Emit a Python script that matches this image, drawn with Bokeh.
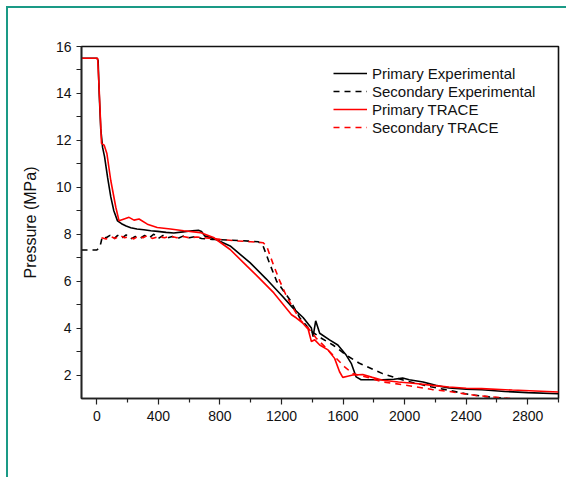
from bokeh.plotting import figure
from bokeh.models import FixedTicker, Legend, LegendItem
from bokeh.embed import file_html
from bokeh.resources import INLINE

# Time (s) and pressure (MPa) traces
prim_exp_t = [-100, 0, 8, 15, 25, 37, 50, 70, 90, 110, 134, 160, 190, 220, 260, 305, 350,
              395, 450, 500, 560, 620, 660, 680, 700, 760, 866, 995, 1100, 1200, 1275, 1340,
              1394, 1405, 1422, 1448, 1512, 1566, 1620, 1653, 1685, 1717, 1790, 1857, 1930,
              1987, 2030, 2120, 2202, 2288, 2400, 2502, 2650, 2800, 3000]
prim_exp_p = [15.5, 15.5, 15.4, 14.0, 12.5, 11.7, 11.3, 10.4, 9.6, 9.0, 8.57, 8.45, 8.35,
              8.28, 8.22, 8.19, 8.15, 8.12, 8.08, 8.05, 8.1, 8.15, 8.17, 8.12, 7.93, 7.82,
              7.5, 6.79, 6.1, 5.4, 4.85, 4.45, 4.0, 3.64, 4.31, 3.78, 3.5, 3.28, 2.85, 2.5,
              1.92, 1.8, 1.8, 1.8, 1.82, 1.87, 1.8, 1.7, 1.56, 1.45, 1.4, 1.37, 1.3, 1.25, 1.2]

sec_exp_t = [-100, 0, 10, 25, 35, 60, 85, 110, 135, 160, 190, 220, 250, 280, 310, 340, 370,
             400, 430, 460, 490, 520, 560, 600, 640, 680, 750, 850, 950, 1050, 1080, 1120,
             1168, 1254, 1319, 1394, 1459, 1534, 1620, 1706, 1857, 2008, 2170, 2288, 2396,
             2500, 2654, 2800]
sec_exp_p = [7.33, 7.33, 7.38, 7.6, 7.9, 7.85, 7.95, 7.8, 7.95, 7.82, 7.97, 7.8, 7.9, 7.82,
             7.95, 7.85, 8.0, 7.82, 7.95, 7.85, 7.9, 7.8, 7.92, 7.85, 7.9, 7.82, 7.78, 7.75,
             7.72, 7.68, 7.5, 6.8, 6.0, 5.21, 4.43, 3.86, 3.57, 3.28, 2.85, 2.5, 2.06, 1.75,
             1.5, 1.35, 1.2, 1.1, 1.0, 0.9]

prim_trace_t = [-100, 5, 15, 30, 47, 65, 90, 123, 144, 177, 209, 241, 274, 328, 392, 478,
                564, 672, 758, 866, 974, 1060, 1150, 1265, 1297, 1340, 1373, 1394, 1416,
                1448, 1502, 1545, 1577, 1598, 1630, 1663, 1728, 1790, 1857, 1960, 2072,
                2180, 2288, 2400, 2500, 2700, 3000]
prim_trace_p = [15.5, 15.5, 14.15, 11.87, 11.8, 11.44, 10.3, 9.15, 8.57, 8.65, 8.72, 8.6,
                8.65, 8.43, 8.29, 8.22, 8.15, 8.07, 7.86, 7.35, 6.65, 6.1, 5.5, 4.57, 4.43,
                4.2, 3.95, 3.43, 3.5, 3.28, 3.07, 2.71, 2.14, 1.9, 1.95, 2.0, 2.02, 1.9,
                1.78, 1.7, 1.64, 1.56, 1.49, 1.44, 1.42, 1.36, 1.28]

sec_trace_t = [30, 60, 90, 120, 150, 180, 210, 240, 270, 300, 330, 360, 400, 440, 480, 520,
               560, 600, 650, 700, 800, 900, 1000, 1080, 1103, 1146, 1189, 1232, 1319, 1373,
               1426, 1491, 1556, 1610, 1663, 1750, 1857, 2008, 2180, 2288, 2461, 2650, 2830,
               3000]
sec_trace_p = [7.85, 7.8, 7.9, 7.82, 7.95, 7.85, 7.9, 7.8, 7.92, 7.85, 7.95, 7.82, 7.9,
               7.85, 7.92, 7.85, 7.9, 7.85, 7.88, 7.85, 7.78, 7.72, 7.68, 7.64, 7.5, 6.72,
               6.0, 5.36, 4.36, 4.0, 3.57, 3.14, 2.71, 2.35, 2.06, 1.92, 1.71, 1.57, 1.38,
               1.3, 1.13, 1.02, 0.92, 0.85]

x_major = [0, 400, 800, 1200, 1600, 2000, 2400, 2800]
x_minor = [200, 600, 1000, 1400, 1800, 2200, 2600, 3000]
y_major = [2, 4, 6, 8, 10, 12, 14, 16]
y_minor = [3, 5, 7, 9, 11, 13, 15]

FONT = "Liberation Sans"
TEAL = "#1a9a86"

p = figure(width=566, height=477, x_range=(-100, 3000), y_range=(1, 16),
           output_backend="svg", toolbar_location=None,
           min_border_left=81, min_border_right=8, min_border_top=46, min_border_bottom=79,
           background_fill_color="white", border_fill_alpha=0)
# teal page frame along the left and top edges, painted behind the transparent canvas border
p.styles = {
    "background": (f"linear-gradient({TEAL}, {TEAL}) 6px 6px / 2px 100% no-repeat, "
                   f"linear-gradient({TEAL}, {TEAL}) 6px 6px / 100% 2px no-repeat, white"),
}
p.grid.visible = False
p.outline_line_color = "#111111"
p.outline_line_width = 1.6

for ax in (p.xaxis[0], p.yaxis[0]):
    ax.axis_line_color = "#222222"
    ax.axis_line_width = 1.6
    ax.major_tick_line_color = "#222222"
    ax.minor_tick_line_color = "#222222"
    ax.major_tick_line_width = 1.2
    ax.minor_tick_line_width = 1.2
    ax.major_tick_in = 0
    ax.minor_tick_in = 0
    ax.major_label_text_font = FONT
    ax.major_label_text_font_size = "14px"
    ax.major_label_text_color = "#111111"

p.xaxis.ticker = FixedTicker(ticks=x_major, minor_ticks=x_minor)
p.yaxis.ticker = FixedTicker(ticks=y_major, minor_ticks=y_minor)
p.xaxis.major_tick_out = 6
p.xaxis.minor_tick_out = 4
p.yaxis.major_tick_out = 5
p.yaxis.minor_tick_out = 5
p.xaxis.major_label_standoff = 6
p.yaxis.major_label_standoff = 5

p.yaxis.axis_label = "Pressure (MPa)"
p.yaxis.axis_label_text_font = FONT
p.yaxis.axis_label_text_font_size = "16px"
p.yaxis.axis_label_text_font_style = "normal"
p.yaxis.axis_label_text_color = "#111111"
p.yaxis.axis_label_standoff = 14

r1 = p.line(prim_exp_t, prim_exp_p, line_color="black", line_width=1.6)
r2 = p.line(sec_exp_t, sec_exp_p, line_color="black", line_width=1.6, line_dash="6 5")
r3 = p.line(prim_trace_t, prim_trace_p, line_color="#ff0000", line_width=1.6)
r4 = p.line(sec_trace_t, sec_trace_p, line_color="#ff0000", line_width=1.6, line_dash="6 5")

legend = Legend(items=[
    LegendItem(label="Primary Experimental", renderers=[r1]),
    LegendItem(label="Secondary Experimental", renderers=[r2]),
    LegendItem(label="Primary TRACE", renderers=[r3]),
    LegendItem(label="Secondary TRACE", renderers=[r4]),
], location=(252, 262))
legend.background_fill_alpha = 0
legend.border_line_alpha = 0
legend.padding = 0
legend.margin = 0
legend.spacing = 0
legend.glyph_width = 34
legend.glyph_height = 18
legend.label_height = 18
legend.label_standoff = 5
legend.label_text_font = FONT
legend.label_text_font_size = "15px"
legend.label_text_color = "#111111"
p.add_layout(legend)

open("out.html", "w").write(file_html(p, INLINE))
